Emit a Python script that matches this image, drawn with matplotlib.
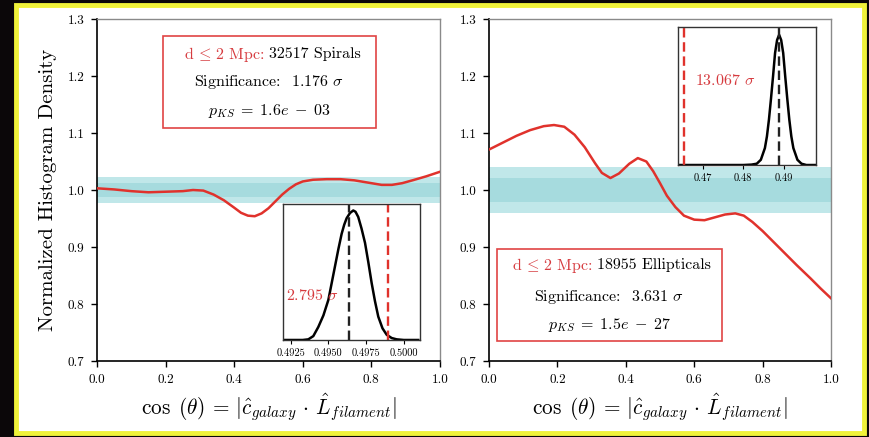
import matplotlib
matplotlib.use("Agg")
import matplotlib.pyplot as plt
from matplotlib.patches import Rectangle

plt.rcParams["font.family"] = "serif"
plt.rcParams["font.serif"] = ["cmr10"]
plt.rcParams["mathtext.fontset"] = "cm"
plt.rcParams["axes.formatter.use_mathtext"] = True

# smoothed alignment histograms, d <= 2 Mpc
cos_spiral = [0.00, 0.05, 0.10, 0.15, 0.20, 0.25, 0.28, 0.31, 0.34, 0.37, 0.40, 0.42,
              0.44, 0.46, 0.48, 0.50, 0.52, 0.54, 0.56, 0.58, 0.60, 0.63, 0.67, 0.71,
              0.75, 0.79, 0.83, 0.86, 0.89, 0.92, 0.96, 1.00]
dens_spiral = [1.003, 1.001, 0.998, 0.996, 0.997, 0.998, 1.000, 0.999, 0.992, 0.982,
               0.969, 0.960, 0.955, 0.954, 0.959, 0.968, 0.980, 0.992, 1.002, 1.010,
               1.015, 1.018, 1.019, 1.019, 1.017, 1.013, 1.009, 1.009, 1.012, 1.017,
               1.024, 1.032]

cos_ellip = [0.00, 0.04, 0.08, 0.12, 0.16, 0.19, 0.22, 0.25, 0.28, 0.31, 0.33, 0.355,
             0.38, 0.41, 0.435, 0.46, 0.48, 0.50, 0.52, 0.545, 0.57, 0.60, 0.63, 0.66,
             0.69, 0.72, 0.745, 0.77, 0.80, 0.83, 0.86, 0.90, 0.94, 0.97, 1.00]
dens_ellip = [1.071, 1.083, 1.095, 1.105, 1.112, 1.114, 1.111, 1.097, 1.075, 1.047,
              1.030, 1.021, 1.029, 1.046, 1.056, 1.050, 1.033, 1.012, 0.990, 0.970,
              0.955, 0.948, 0.947, 0.952, 0.957, 0.959, 0.955, 0.944, 0.928, 0.910,
              0.892, 0.868, 0.845, 0.827, 0.810]

# 1 and 2 sigma widths of the isotropic expectation
band_spiral = (0.012, 0.022)
band_ellip = (0.021, 0.041)

# bootstrap distributions of the mean cos(theta)
boot_x_spiral = [0.49201, 0.49330, 0.49367, 0.49400, 0.49433, 0.49467, 0.49500, 0.49522,
                 0.49544, 0.49566, 0.49588, 0.49605, 0.49621, 0.49643, 0.49665, 0.49680,
                 0.49698, 0.49720, 0.49743, 0.49765, 0.49787, 0.49809, 0.49831, 0.49859,
                 0.49887, 0.49920, 0.49953, 0.50000, 0.50096]
boot_y_spiral = [0.0, 0.0, 0.005, 0.03, 0.10, 0.19, 0.31, 0.44,
                 0.57, 0.70, 0.82, 0.89, 0.94, 0.98, 1.0, 0.99,
                 0.95, 0.86, 0.75, 0.60, 0.44, 0.30, 0.18, 0.09,
                 0.04, 0.015, 0.005, 0.0, 0.0]
boot_mean_spiral = 0.49639
obs_spiral = 0.49898

boot_x_ellip = [0.46393, 0.4800, 0.4820, 0.4833, 0.4843, 0.4853, 0.4858, 0.4863, 0.4868,
                0.4873, 0.4878, 0.4883, 0.4888, 0.4893, 0.4898, 0.4903, 0.4908, 0.4913,
                0.4918, 0.4923, 0.4933, 0.4943, 0.4955, 0.49786]
boot_y_ellip = [0.0, 0.0, 0.003, 0.01, 0.04, 0.13, 0.22, 0.35, 0.51,
                0.68, 0.86, 0.96, 1.0, 0.96, 0.86, 0.68, 0.51, 0.35,
                0.22, 0.13, 0.04, 0.01, 0.0, 0.0]
boot_mean_ellip = 0.48877
obs_ellip = 0.46541

RED = "#e0322c"
TXT_RED = "#d63a3e"

fig = plt.figure(figsize=(8.7, 4.37), dpi=100)
fig.patch.set_facecolor("#0b0709")
# yellow frame with white panel inside
fig.patches.append(Rectangle((16 / 870, 1 - 433 / 437), 848 / 870, 428 / 437,
                             transform=fig.transFigure, facecolor="white",
                             edgecolor="#f0f23a", linewidth=3.5, zorder=-5))


def main_panel(rect, xs, ys, band):
    ax = fig.add_axes(rect)
    ax.set_facecolor("none")
    ax.set_zorder(1)
    ax.axhspan(1 - band[1], 1 + band[1], color="#c0e7e9", lw=0, zorder=1)
    ax.axhspan(1 - band[0], 1 + band[0], color="#a6dbde", lw=0, zorder=1)
    ax.plot(xs, ys, color=RED, lw=1.8, zorder=3, solid_joinstyle="round")
    ax.set_xlim(0, 1)
    ax.set_ylim(0.7, 1.3)
    ax.set_xticks([0.0, 0.2, 0.4, 0.6, 0.8, 1.0])
    ax.set_yticks([0.7, 0.8, 0.9, 1.0, 1.1, 1.2, 1.3])
    ax.set_xticklabels(["0.0", "0.2", "0.4", "0.6", "0.8", "1.0"])
    ax.set_yticklabels(["0.7", "0.8", "0.9", "1.0", "1.1", "1.2", "1.3"])
    ax.tick_params(labelsize=9.5, length=4, width=1, pad=5)
    for s in ("top", "right"):
        ax.spines[s].set_color("#8a8a8a")
        ax.spines[s].set_linewidth(1.0)
    for s in ("left", "bottom"):
        ax.spines[s].set_color("black")
        ax.spines[s].set_linewidth(1.2)
    ax.set_xlabel(r"$\cos\ (\theta)\, =\, |\hat{c}_{galaxy}\, \cdot\, \hat{L}_{filament}|$",
                  fontsize=15.3, labelpad=4)
    return ax


def info_box(ax, box, split, ys, count, sig, pks):
    x0, x1, y0, y1 = box
    ax.add_patch(Rectangle((x0, y0), x1 - x0, y1 - y0, transform=ax.get_yaxis_transform(),
                           facecolor="white", edgecolor="#e04444", lw=1.2, zorder=4))
    tr = ax.get_yaxis_transform()
    cx = (x0 + x1) / 2
    ax.text(split, ys[0], r"d$\,\leq\,$2 Mpc:", color=TXT_RED, ha="right", va="center",
            fontsize=11.5, transform=tr, zorder=5)
    ax.text(split + 0.012, ys[0], count, color="black", ha="left", va="center",
            fontsize=11.5, transform=tr, zorder=5)
    ax.text(cx, ys[1], "Significance:  " + sig + r" $\sigma$", ha="center", va="center",
            fontsize=11.5, transform=tr, zorder=5)
    ax.text(cx, ys[2], r"$p_{KS}\;=\;" + pks + "$", ha="center", va="center",
            fontsize=11.5, transform=tr, zorder=5)


def inset(rect, bx, by, mean, obs, xlim, ylim, ticks, labels, label, lpos):
    ia = fig.add_axes(rect)
    ia.set_facecolor("white")
    ia.set_zorder(5)
    ia.plot(bx, by, color="black", lw=1.8, solid_joinstyle="round")
    ia.axvline(mean, color="#222222", ls=(0, (4, 2)), lw=1.7)
    ia.axvline(obs, color="#e0322c", ls=(0, (4, 2)), lw=1.7)
    ia.set_xlim(*xlim)
    ia.set_ylim(*ylim)
    ia.set_yticks([])
    ia.set_xticks(ticks)
    ia.set_xticklabels(labels)
    ia.tick_params(axis="x", labelsize=7.5, length=3, width=0.8, pad=3)
    for s in ia.spines.values():
        s.set_color("#333333")
        s.set_linewidth(1.0)
    ia.text(lpos[0], lpos[1], label, color=TXT_RED, fontsize=11.5, ha="left", va="center",
            transform=ia.transAxes)
    return ia


ax1 = main_panel([0.1115, 0.1739, 0.3942, 0.7826], cos_spiral, dens_spiral, band_spiral)
ax1.set_ylabel("Normalized Histogram Density", fontsize=15, labelpad=8)
info_box(ax1, (0.192, 0.813, 1.1088, 1.270), 0.49, (1.2386, 1.1895, 1.1386),
         "32517 Spirals", "1.176", r"1.6e\;-\;03")

ax2 = main_panel([0.5621, 0.1739, 0.3931, 0.7826], cos_ellip, dens_ellip, band_ellip)
info_box(ax2, (0.023, 0.681, 0.735, 0.8965), 0.303, (0.868, 0.812, 0.763),
         "18955 Ellipticals", "3.631", r"1.5e\;-\;27")

inset([0.3253, 0.2220, 0.1575, 0.3112], boot_x_spiral, boot_y_spiral,
      boot_mean_spiral, obs_spiral, (0.49199, 0.50108), (0, 1.05),
      [0.4925, 0.4950, 0.4975, 0.5000], ["0.4925", "0.4950", "0.4975", "0.5000"],
      r"2.795 $\sigma$", (0.02, 0.33))
inset([0.7793, 0.6224, 0.1586, 0.3158], boot_x_ellip, boot_y_ellip,
      boot_mean_ellip, obs_ellip, (0.46393, 0.49786), (0, 1.06),
      [0.47, 0.48, 0.49], ["0.47", "0.48", "0.49"],
      r"13.067 $\sigma$", (0.12, 0.615))

fig.savefig("out.png", dpi=100, facecolor=fig.get_facecolor())
